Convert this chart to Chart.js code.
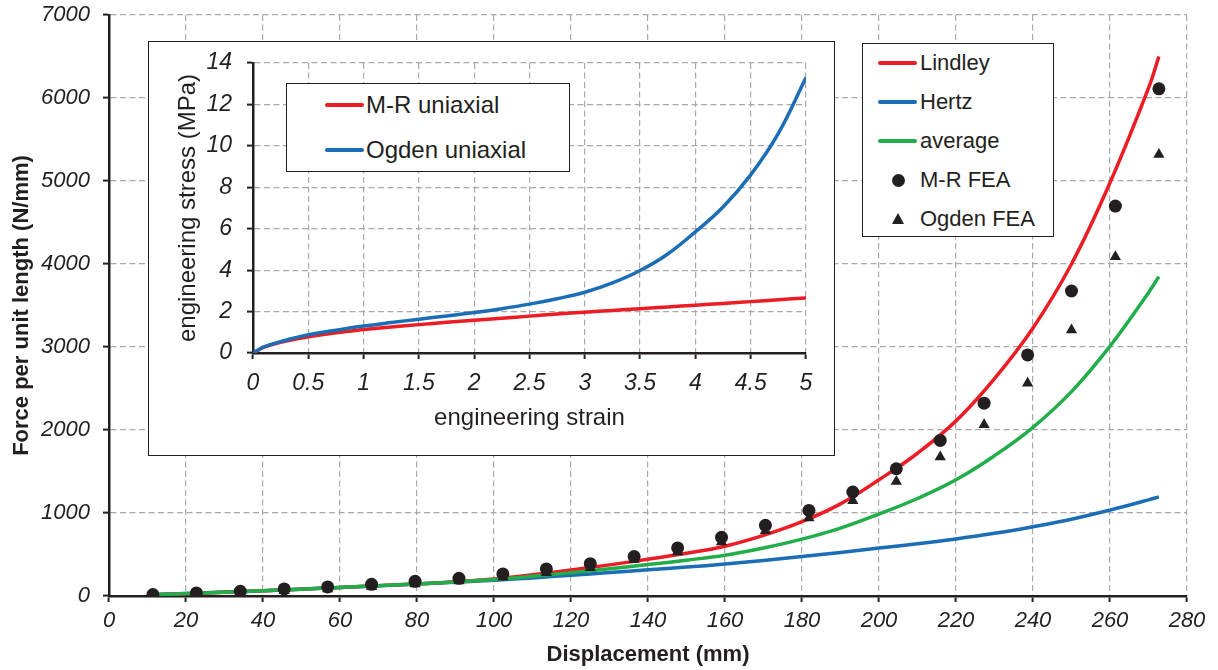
<!DOCTYPE html>
<html>
<head>
<meta charset="utf-8">
<script src="https://cdn.jsdelivr.net/npm/chart.js@4.4.1/dist/chart.umd.min.js"></script>
<style>
  body { margin: 0; background: #fff; font-family: "Liberation Sans", Arial, sans-serif; color: #231f20; }
  #wrap { position: relative; width: 1218px; height: 670px; }
  #main { position: absolute; left: 0; top: 0; }
  #inset { position: absolute; left: 148px; top: 41px; width: 685px; height: 413px; border: 1px solid #231f20; background: #fff; }
  #insetCanvas { position: absolute; left: 0; top: 0; }
  .legend { position: absolute; background: #fff; border: 1px solid #231f20; }
  .swatch { position: absolute; height: 4px; margin-top: -2px; border-radius: 2px; }
  .label { position: absolute; white-space: nowrap; line-height: 1; transform: translateY(-50%); }
  .dot { position: absolute; width: 13px; height: 13px; margin: -6.5px 0 0 -6.5px; border-radius: 50%; background: #231f20; }
  .tri { position: absolute; width: 0; height: 0; margin: -6px 0 0 -6.5px; border-left: 6.5px solid transparent; border-right: 6.5px solid transparent; border-bottom: 11px solid #231f20; }
</style>
</head>
<body>
<div id="wrap">
  <canvas id="main" width="1218" height="670"></canvas>
  <div id="inset">
    <canvas id="insetCanvas" width="685" height="413"></canvas>
    <div class="legend" id="insetLegend" style="left:137px; top:41px; width:282px; height:87px;"></div>
  </div>
  <div class="legend" id="mainLegend" style="left:862px; top:43px; width:190px; height:192px;"></div>
</div>
<script>
// ---- main chart data (displacement in mm, force per unit length in N/mm) ----
const curveX   = [11.4, 20, 30, 40, 50, 60, 70, 80, 90, 100, 110, 120, 130, 140, 150, 160, 170, 180, 190, 200, 210, 220, 230, 240, 250, 260, 270, 272.7];
const lindley  = [15, 28, 45, 62, 82, 103, 125, 146, 172, 205, 255, 312, 375, 443, 515, 600, 730, 895, 1110, 1400, 1720, 2110, 2620, 3230, 4000, 4980, 6120, 6500];
const hertz    = [17, 30, 47, 64, 83, 103, 123, 144, 167, 190, 218, 250, 283, 315, 348, 385, 428, 476, 525, 578, 630, 688, 755, 835, 925, 1035, 1158, 1195];
const average  = [16, 29, 46, 63, 82, 103, 124, 145, 170, 198, 237, 281, 329, 379, 432, 492, 578, 685, 818, 988, 1175, 1400, 1690, 2032, 2462, 3010, 3655, 3848];

const feaX     = [11.4, 22.7, 34.1, 45.5, 56.8, 68.2, 79.5, 90.9, 102.3, 113.6, 125, 136.4, 147.7, 159.1, 170.5, 181.8, 193.2, 204.5, 215.9, 227.3, 238.6, 250, 261.4, 272.7];
const mrFea    = [17, 37, 57, 85, 109, 141, 177, 213, 266, 326, 390, 475, 579, 707, 851, 1031, 1253, 1533, 1874, 2323, 2905, 3675, 4698, 6110];
const ogdenFea = [8, 22, 40, 62, 85, 112, 145, 180, 225, 280, 340, 440, 530, 651, 787, 940, 1148, 1380, 1674, 2063, 2564, 3206, 4088, 5320];

// ---- inset data (engineering strain vs engineering stress in MPa) ----
const strainX  = [0, 0.05, 0.1, 0.25, 0.5, 0.75, 1, 1.25, 1.5, 1.75, 2, 2.25, 2.5, 2.75, 3, 3.25, 3.5, 3.75, 4, 4.25, 4.5, 4.75, 5];
const mrUni    = [0, 0.15, 0.28, 0.52, 0.78, 0.98, 1.13, 1.26, 1.37, 1.48, 1.58, 1.68, 1.78, 1.88, 1.97, 2.05, 2.14, 2.22, 2.31, 2.39, 2.48, 2.57, 2.66];
const ogdenUni = [0, 0.16, 0.3, 0.55, 0.88, 1.1, 1.3, 1.47, 1.63, 1.79, 1.95, 2.14, 2.36, 2.62, 2.93, 3.38, 3.98, 4.78, 5.85, 7.05, 8.6, 10.6, 13.3];

const FONT = '"Liberation Sans", Arial, sans-serif';
const INK = '#231f20';
const GRID = '#a9a9a9';
const RED = '#ec1c24';
const BLUE = '#1b6db5';
const GREEN = '#22ad4b';

const pts = (xs, ys) => xs.map((x, i) => ({ x: x, y: ys[i] }));

function curve(label, xs, ys, color, order) {
  return {
    label: label, data: pts(xs, ys), borderColor: color, backgroundColor: color,
    borderWidth: 3.5, pointRadius: 0, tension: 0.4, order: order
  };
}

function markers(label, xs, ys, style, order) {
  return {
    label: label, data: pts(xs, ys), showLine: false, pointStyle: style,
    pointRadius: 6.5, pointBorderWidth: 0, backgroundColor: INK, borderColor: INK, order: order
  };
}

function axis(opts) {
  return {
    type: 'linear', min: opts.min, max: opts.max,
    ticks: {
      stepSize: opts.step, padding: opts.pad, color: INK, autoSkip: false, maxRotation: 0,
      font: { family: FONT, size: opts.tickSize, style: 'italic' },
      callback: v => String(v)
    },
    grid: { color: GRID, lineWidth: 1.2, tickLength: 6, tickColor: INK, tickWidth: 2 },
    border: { color: INK, width: 2.5, dash: [6, 3.5] },
    title: {
      display: true, text: opts.title, color: INK,
      font: { family: FONT, size: opts.titleSize, weight: opts.bold ? 'bold' : 'normal' },
      padding: opts.titlePad
    },
    afterFit: opts.fit
  };
}

// y axes: fixed width, and no extra room for the top tick label (layout padding sets it)
const fitY = w => s => { s.width = w; s.paddingTop = 0; s.paddingBottom = 0; };

new Chart(document.getElementById('main'), {
  type: 'line',
  data: {
    datasets: [
      markers('M-R FEA', feaX, mrFea, 'circle', 0),
      markers('Ogden FEA', feaX, ogdenFea, 'triangle', 1),
      curve('average', curveX, average, GREEN, 2),
      curve('Lindley', curveX, lindley, RED, 3),
      curve('Hertz', curveX, hertz, BLUE, 4)
    ]
  },
  options: {
    responsive: false, animation: false, events: [],
    layout: { padding: { left: 0, right: 31, top: 15, bottom: 0 } },
    plugins: { legend: { display: false }, tooltip: { enabled: false } },
    scales: {
      x: axis({ min: 0, max: 280, step: 20, pad: 6, tickSize: 22, title: 'Displacement (mm)', titleSize: 22, bold: true,
                titlePad: { top: 0, bottom: 2 }, fit: s => { s.height = 74; } }),
      y: axis({ min: 0, max: 7000, step: 1000, pad: 13, tickSize: 22, title: 'Force per unit length (N/mm)', titleSize: 22, bold: true,
                titlePad: { top: 9, bottom: 0 }, fit: fitY(109) })
    }
  }
});

new Chart(document.getElementById('insetCanvas'), {
  type: 'line',
  data: {
    datasets: [
      curve('Ogden uniaxial', strainX, ogdenUni, BLUE, 0),
      curve('M-R uniaxial', strainX, mrUni, RED, 1)
    ]
  },
  options: {
    responsive: false, animation: false, events: [],
    layout: { padding: { left: 0, right: 28, top: 21, bottom: 0 } },
    plugins: { legend: { display: false }, tooltip: { enabled: false } },
    scales: {
      x: axis({ min: 0, max: 5, step: 0.5, pad: 11, tickSize: 23, title: 'engineering strain', titleSize: 24, bold: false,
                titlePad: { top: 0, bottom: 22 }, fit: s => { s.height = 102; } }),
      y: axis({ min: 0, max: 14, step: 2, pad: 15, tickSize: 23, title: 'engineering stress (MPa)', titleSize: 24, bold: false,
                titlePad: { top: 25, bottom: 0 }, fit: fitY(104) })
    }
  }
});

// ---- legends ----
function buildLegend(el, items, o) {
  items.forEach((it, i) => {
    const y = o.firstRow + i * o.rowGap;
    if (it.kind === 'line') {
      const sw = document.createElement('div');
      sw.className = 'swatch';
      sw.style.cssText = `left:${o.swatchLeft}px; top:${y}px; width:${o.swatchWidth}px; background:${it.color};`;
      el.appendChild(sw);
    } else {
      const mk = document.createElement('div');
      mk.className = it.kind;
      mk.style.left = o.markX + 'px';
      mk.style.top = y + 'px';
      el.appendChild(mk);
    }
    const tx = document.createElement('div');
    tx.className = 'label';
    tx.textContent = it.label;
    tx.style.cssText = `left:${o.textLeft}px; top:${y}px; font-size:${o.size}px;`;
    el.appendChild(tx);
  });
}

buildLegend(document.getElementById('mainLegend'), [
  { label: 'Lindley', kind: 'line', color: RED },
  { label: 'Hertz', kind: 'line', color: BLUE },
  { label: 'average', kind: 'line', color: GREEN },
  { label: 'M-R FEA', kind: 'dot' },
  { label: 'Ogden FEA', kind: 'tri' }
], { firstRow: 19, rowGap: 39, swatchLeft: 15, swatchWidth: 39, markX: 35, textLeft: 57, size: 22 });

buildLegend(document.getElementById('insetLegend'), [
  { label: 'M-R uniaxial', kind: 'line', color: RED },
  { label: 'Ogden uniaxial', kind: 'line', color: BLUE }
], { firstRow: 21, rowGap: 45, swatchLeft: 38, swatchWidth: 39, markX: 0, textLeft: 79, size: 24 });
</script>
</body>
</html>
